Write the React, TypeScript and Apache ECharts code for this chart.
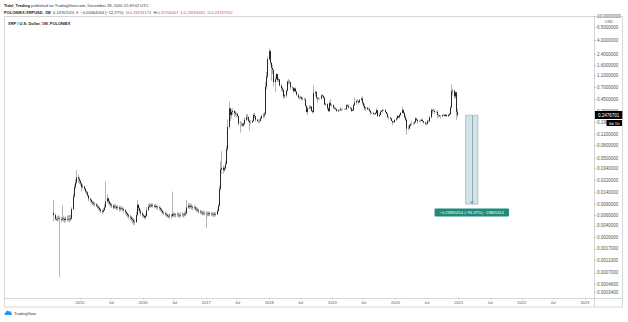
import React, { useEffect, useRef } from "react";
import * as echarts from "echarts";

// ---------- data (weekly candles, POLONIEX:XRPUSD) ----------
const firstWeekStart = "2014-08-04";
const firstOpen = 0.0065;

const close2014 = [0.006, 0.0052, 0.0051, 0.0052, 0.0053, 0.0052, 0.0051, 0.0053, 0.0052, 0.005, 0.0052, 0.0051, 0.0052, 0.0051, 0.0053, 0.0075, 0.012, 0.017, 0.02, 0.0245, 0.023, 0.0215];
const high2014 = [0.0105, 0.0064, 0.0056, 0.0058, 0.006, 0.0058, 0.0056, 0.0088, 0.0057, 0.0056, 0.0057, 0.0059, 0.006, 0.006, 0.0061, 0.008, 0.0135, 0.019, 0.023, 0.032, 0.027, 0.025];
const low2014 = [0.0048, 0.0049, 0.0048, 0.0047, 0.0049, 0.0006, 0.0046, 0.0048, 0.0047, 0.0045, 0.0046, 0.0047, 0.0047, 0.0046, 0.0048, 0.005, 0.0072, 0.0115, 0.016, 0.019, 0.02, 0.019];

const close2015 = [0.0195, 0.017, 0.0175, 0.016, 0.0145, 0.014, 0.0125, 0.011, 0.0105, 0.0098, 0.0095, 0.0092, 0.009, 0.0085, 0.0082, 0.0078, 0.0074, 0.007, 0.0068, 0.0072, 0.008, 0.01, 0.0112, 0.01, 0.0092, 0.0088, 0.0085, 0.008, 0.0083, 0.0082, 0.0078, 0.008, 0.0076, 0.0078, 0.0077, 0.0075, 0.0072, 0.0068, 0.0064, 0.006, 0.0057, 0.0055, 0.0052, 0.005, 0.0047, 0.0046, 0.006, 0.0088, 0.0078, 0.007, 0.0064, 0.006];
const high2015 = [0.0225, 0.02, 0.019, 0.018, 0.0165, 0.015, 0.0145, 0.0128, 0.0115, 0.011, 0.0103, 0.01, 0.0098, 0.0094, 0.009, 0.0086, 0.0082, 0.0078, 0.0075, 0.0078, 0.009, 0.021, 0.013, 0.0115, 0.0104, 0.0098, 0.0094, 0.009, 0.009, 0.009, 0.0086, 0.0087, 0.0084, 0.0085, 0.0083, 0.0081, 0.0079, 0.0075, 0.007, 0.0066, 0.0063, 0.006, 0.0058, 0.0056, 0.0053, 0.0051, 0.0068, 0.0105, 0.0092, 0.0082, 0.0074, 0.0068];
const low2015 = [0.018, 0.0145, 0.016, 0.015, 0.0135, 0.0128, 0.0118, 0.01, 0.0096, 0.009, 0.0087, 0.0084, 0.0083, 0.008, 0.0076, 0.0072, 0.0068, 0.0064, 0.0062, 0.0066, 0.007, 0.0078, 0.0095, 0.009, 0.0085, 0.008, 0.0078, 0.0074, 0.0076, 0.0075, 0.0072, 0.0073, 0.0068, 0.007, 0.0071, 0.0069, 0.0066, 0.0062, 0.0058, 0.0055, 0.0052, 0.005, 0.0047, 0.0044, 0.0042, 0.0041, 0.0045, 0.0058, 0.007, 0.0064, 0.0058, 0.0055];

const close2016 = [0.0058, 0.0055, 0.0058, 0.0072, 0.0082, 0.0086, 0.0084, 0.0087, 0.0085, 0.0082, 0.0084, 0.0081, 0.008, 0.0078, 0.0074, 0.007, 0.0066, 0.0064, 0.0062, 0.006, 0.0058, 0.0057, 0.0059, 0.0058, 0.0062, 0.006, 0.0061, 0.006, 0.0061, 0.006, 0.0059, 0.006, 0.0061, 0.006, 0.0062, 0.0064, 0.008, 0.0085, 0.0082, 0.0084, 0.0081, 0.0079, 0.008, 0.0076, 0.0074, 0.0072, 0.0069, 0.0067, 0.0066, 0.0064, 0.0065, 0.0064];
const high2016 = [0.0064, 0.006, 0.0063, 0.008, 0.009, 0.0095, 0.0092, 0.0094, 0.0093, 0.009, 0.0091, 0.0088, 0.0087, 0.0085, 0.0082, 0.0078, 0.0073, 0.007, 0.0068, 0.0066, 0.0064, 0.0062, 0.0064, 0.0063, 0.0144, 0.0066, 0.0066, 0.0065, 0.0067, 0.0066, 0.0065, 0.0066, 0.0067, 0.0065, 0.0068, 0.0071, 0.0105, 0.0095, 0.0092, 0.0093, 0.009, 0.0086, 0.0088, 0.0084, 0.0081, 0.0079, 0.0076, 0.0073, 0.0072, 0.007, 0.0071, 0.007];
const low2016 = [0.0054, 0.0051, 0.0052, 0.0056, 0.007, 0.0079, 0.0078, 0.008, 0.0079, 0.0077, 0.0078, 0.0075, 0.0074, 0.0072, 0.0069, 0.0065, 0.0062, 0.006, 0.0058, 0.0056, 0.0054, 0.0053, 0.0054, 0.0053, 0.0055, 0.0056, 0.0056, 0.0055, 0.0056, 0.0055, 0.0054, 0.0055, 0.0056, 0.0055, 0.0057, 0.0058, 0.0062, 0.0077, 0.0075, 0.0077, 0.0074, 0.0072, 0.0073, 0.007, 0.0068, 0.0066, 0.0063, 0.0062, 0.0061, 0.0059, 0.006, 0.0059];

const close2017 = [0.0063, 0.0062, 0.0064, 0.0062, 0.0063, 0.0062, 0.0061, 0.0063, 0.0062, 0.007, 0.0085, 0.016, 0.033, 0.035, 0.032, 0.034, 0.04, 0.07, 0.16, 0.32, 0.25, 0.28, 0.29, 0.27, 0.26, 0.26, 0.24, 0.18, 0.18, 0.18, 0.17, 0.18, 0.21, 0.23, 0.23, 0.2, 0.19, 0.19, 0.2, 0.25, 0.24, 0.21, 0.2, 0.2, 0.2, 0.22, 0.24, 0.245, 0.26, 0.72, 1.05, 2.0];
const high2017 = [0.007, 0.0068, 0.0069, 0.0068, 0.0068, 0.0067, 0.0066, 0.0068, 0.0067, 0.0076, 0.0092, 0.018, 0.045, 0.065, 0.038, 0.037, 0.045, 0.08, 0.21, 0.41, 0.33, 0.31, 0.32, 0.3, 0.29, 0.28, 0.27, 0.24, 0.2, 0.195, 0.185, 0.19, 0.23, 0.26, 0.26, 0.24, 0.21, 0.205, 0.21, 0.27, 0.27, 0.24, 0.215, 0.21, 0.215, 0.235, 0.255, 0.27, 0.28, 0.85, 1.25, 2.2];
const low2017 = [0.0037, 0.0057, 0.0058, 0.0057, 0.0058, 0.0057, 0.0056, 0.0057, 0.0057, 0.006, 0.0068, 0.0082, 0.015, 0.028, 0.028, 0.03, 0.033, 0.04, 0.065, 0.15, 0.2, 0.22, 0.25, 0.23, 0.24, 0.23, 0.23, 0.17, 0.13, 0.165, 0.16, 0.16, 0.17, 0.2, 0.21, 0.19, 0.14, 0.175, 0.185, 0.195, 0.22, 0.195, 0.19, 0.185, 0.185, 0.195, 0.215, 0.22, 0.225, 0.25, 0.65, 0.98];

const close2018 = [2.7, 1.75, 1.45, 1.35, 0.85, 0.95, 1.15, 0.92, 0.94, 0.75, 0.68, 0.64, 0.5, 0.52, 0.62, 0.87, 0.86, 0.85, 0.7, 0.69, 0.61, 0.67, 0.6, 0.53, 0.48, 0.48, 0.49, 0.46, 0.45, 0.45, 0.35, 0.28, 0.32, 0.33, 0.34, 0.29, 0.28, 0.57, 0.59, 0.48, 0.46, 0.46, 0.46, 0.52, 0.51, 0.48, 0.37, 0.38, 0.32, 0.29, 0.39, 0.36, 0.36];
const high2018 = [3.0, 2.8, 1.8, 1.6, 1.35, 1.05, 1.2, 1.15, 1.0, 0.96, 0.8, 0.72, 0.65, 0.55, 0.64, 0.9, 0.96, 0.92, 0.86, 0.74, 0.7, 0.69, 0.7, 0.61, 0.56, 0.5, 0.51, 0.49, 0.48, 0.48, 0.46, 0.36, 0.34, 0.36, 0.36, 0.35, 0.3, 0.77, 0.62, 0.6, 0.48, 0.49, 0.47, 0.54, 0.54, 0.52, 0.49, 0.39, 0.38, 0.33, 0.42, 0.45, 0.38];
const low2018 = [1.9, 1.6, 0.9, 1.15, 0.72, 0.58, 0.95, 0.85, 0.85, 0.73, 0.6, 0.58, 0.46, 0.46, 0.48, 0.6, 0.78, 0.8, 0.64, 0.64, 0.57, 0.59, 0.58, 0.51, 0.46, 0.44, 0.46, 0.43, 0.43, 0.43, 0.34, 0.27, 0.25, 0.31, 0.31, 0.28, 0.26, 0.27, 0.5, 0.45, 0.39, 0.44, 0.44, 0.45, 0.49, 0.45, 0.36, 0.35, 0.3, 0.28, 0.28, 0.35, 0.34];

const close2019 = [0.33, 0.32, 0.31, 0.29, 0.3, 0.3, 0.31, 0.31, 0.31, 0.31, 0.31, 0.36, 0.35, 0.33, 0.32, 0.29, 0.3, 0.36, 0.4, 0.42, 0.42, 0.4, 0.44, 0.46, 0.39, 0.35, 0.32, 0.33, 0.31, 0.31, 0.29, 0.27, 0.27, 0.26, 0.26, 0.27, 0.3, 0.24, 0.25, 0.28, 0.29, 0.3, 0.3, 0.28, 0.26, 0.23, 0.23, 0.22, 0.2, 0.19, 0.19, 0.21];
const high2019 = [0.37, 0.34, 0.33, 0.32, 0.31, 0.31, 0.34, 0.32, 0.32, 0.32, 0.32, 0.37, 0.38, 0.37, 0.34, 0.33, 0.31, 0.38, 0.48, 0.45, 0.45, 0.42, 0.45, 0.49, 0.5, 0.41, 0.38, 0.34, 0.33, 0.33, 0.33, 0.3, 0.28, 0.28, 0.27, 0.28, 0.32, 0.3, 0.27, 0.3, 0.3, 0.31, 0.31, 0.31, 0.28, 0.27, 0.24, 0.23, 0.22, 0.2, 0.2, 0.21];
const low2019 = [0.31, 0.31, 0.3, 0.28, 0.28, 0.29, 0.29, 0.29, 0.3, 0.3, 0.3, 0.3, 0.34, 0.32, 0.31, 0.28, 0.29, 0.29, 0.35, 0.37, 0.4, 0.37, 0.4, 0.43, 0.37, 0.34, 0.3, 0.29, 0.3, 0.3, 0.28, 0.25, 0.26, 0.25, 0.25, 0.25, 0.26, 0.23, 0.23, 0.25, 0.28, 0.27, 0.29, 0.27, 0.26, 0.22, 0.21, 0.21, 0.2, 0.17, 0.185, 0.19];

const close2020 = [0.22, 0.24, 0.23, 0.25, 0.27, 0.3, 0.27, 0.23, 0.21, 0.15, 0.15, 0.17, 0.18, 0.18, 0.18, 0.19, 0.22, 0.21, 0.2, 0.2, 0.2, 0.21, 0.2, 0.19, 0.18, 0.18, 0.2, 0.2, 0.23, 0.3, 0.29, 0.29, 0.28, 0.28, 0.25, 0.25, 0.24, 0.24, 0.25, 0.25, 0.24, 0.25, 0.24, 0.25, 0.26, 0.33, 0.6, 0.62, 0.5, 0.58, 0.28231574, 0.2476701];
const high2020 = [0.23, 0.25, 0.24, 0.26, 0.28, 0.34, 0.31, 0.28, 0.25, 0.22, 0.17, 0.18, 0.18, 0.2, 0.19, 0.2, 0.23, 0.22, 0.21, 0.21, 0.21, 0.22, 0.21, 0.2, 0.19, 0.19, 0.21, 0.21, 0.24, 0.32, 0.31, 0.32, 0.31, 0.29, 0.3, 0.26, 0.25, 0.25, 0.25, 0.26, 0.26, 0.26, 0.26, 0.26, 0.27, 0.35, 0.78, 0.66, 0.63, 0.6, 0.59, 0.31704407];
const low2020 = [0.2, 0.21, 0.22, 0.22, 0.24, 0.27, 0.26, 0.22, 0.2, 0.12, 0.14, 0.15, 0.16, 0.17, 0.17, 0.18, 0.19, 0.2, 0.18, 0.19, 0.19, 0.2, 0.19, 0.18, 0.17, 0.17, 0.175, 0.19, 0.19, 0.22, 0.26, 0.28, 0.26, 0.27, 0.22, 0.23, 0.23, 0.22, 0.23, 0.24, 0.24, 0.24, 0.23, 0.23, 0.24, 0.25, 0.33, 0.52, 0.46, 0.46, 0.21, 0.23594461];

// axis ticks
const priceTicks = [10, 6.5, 4, 2.4, 1.6, 1.1, 0.7, 0.45, 0.29, 0.19, 0.12, 0.08, 0.05, 0.034, 0.022, 0.014, 0.009, 0.006, 0.004, 0.0026, 0.0017, 0.0011, 0.0007, 0.00046, 0.00034];
const timeTickDates = ["2015-01-01", "2015-07-01", "2016-01-01", "2016-07-01", "2017-01-01", "2017-07-01", "2018-01-01", "2018-07-01", "2019-01-01", "2019-07-01", "2020-01-01", "2020-07-01", "2021-01-01", "2021-07-01", "2022-01-01", "2022-07-01", "2023-01-01"];
const axisStart = "2013-10-24";
const axisEnd = "2023-02-23";
const priceMin = 0.0002735;
const priceMax = 10;

// price-range (measure) annotation
const measureFrom = "2021-02-10";
const measureTo = "2021-04-22";
const measureMid = "2021-03-18";
const measureTop = 0.2476701;
const measureBottom = 0.00905;
const measureText = "\u22120.23865314 (\u221296.37%) \u221223865314";

const FONT = "'Liberation Sans', Arial, sans-serif";

const toUTC = (s: string) => {
  const [y, m, d] = s.split("-").map(Number);
  return Date.UTC(y, m - 1, d);
};

export default function App() {
  const ref = useRef<HTMLDivElement>(null);

  useEffect(() => {
    if (!ref.current) return;
    const chart = echarts.init(ref.current, undefined, { renderer: "svg" });

    echarts.graphic.registerShape(
      "tvlogo",
      echarts.graphic.extendPath(
        "M3 10 C0 10 0 6 3 6 C3 2 8 1 9 4 C10 3 13 3 13 6 C15 6 15 10 13 10 Z",
        {}
      )
    );

    const closes = [...close2014, ...close2015, ...close2016, ...close2017, ...close2018, ...close2019, ...close2020];
    const highs = [...high2014, ...high2015, ...high2016, ...high2017, ...high2018, ...high2019, ...high2020];
    const lows = [...low2014, ...low2015, ...low2016, ...low2017, ...low2018, ...low2019, ...low2020];
    const WEEK = 7 * 24 * 3600 * 1000;
    const t0 = toUTC(firstWeekStart);
    const opens = closes.map((c, i) => (i === 0 ? firstOpen : closes[i - 1]));
    const times = closes.map((_, i) => t0 + i * WEEK);

    const wickData = closes.map((c, i) => [times[i], opens[i], c, lows[i], highs[i]]);
    const bodyData = closes.map((c, i) => [times[i], opens[i], c, Math.min(opens[i], c), Math.max(opens[i], c)]);

    const timeTicks = timeTickDates.map(toUTC);
    const lastClose = closes[closes.length - 1];

    const option: any = {
      animation: false,
      backgroundColor: "#ffffff",
      textStyle: { fontFamily: FONT },
      grid: { left: 5, right: 34, top: 16, bottom: 24 },
      xAxis: {
        type: "value",
        min: toUTC(axisStart),
        max: toUTC(axisEnd),
        axisLine: { show: false },
        axisTick: { show: true, length: 1.5, customValues: timeTicks, lineStyle: { color: "#a0a0a0", width: 0.6 } },
        axisLabel: {
          customValues: timeTicks,
          fontSize: 4,
          color: "#555",
          margin: 2.5,
          fontFamily: FONT,
          formatter: (v: number) => {
            const d = new Date(v);
            return d.getUTCMonth() === 0 ? String(d.getUTCFullYear()) : "Jul";
          },
        },
        splitLine: { show: false },
      },
      yAxis: {
        type: "log",
        logBase: 10,
        position: "right",
        min: priceMin,
        max: priceMax,
        axisLine: { show: false },
        axisTick: { show: true, length: 2, customValues: priceTicks, lineStyle: { color: "#a0a0a0", width: 0.6 } },
        axisLabel: {
          customValues: priceTicks,
          fontSize: 4.5,
          color: "#555",
          margin: 3,
          fontFamily: FONT,
          formatter: (v: number) => Number(v).toFixed(7),
        },
        splitLine: { show: false },
      },
      series: [
        {
          type: "candlestick",
          name: "wicks",
          data: wickData,
          barWidth: 1.3,
          silent: true,
          itemStyle: { color: "#a2a2a2", color0: "#a2a2a2", borderColor: "#a2a2a2", borderColor0: "#a2a2a2", borderWidth: 0.8 },
        },
        {
          type: "candlestick",
          name: "XRPUSD",
          data: bodyData,
          barWidth: 1.3,
          silent: true,
          itemStyle: { color: "#ffffff", color0: "#161616", borderColor: "#161616", borderColor0: "#161616", borderWidth: 0.9 },
          markArea: {
            silent: true,
            itemStyle: { color: "rgba(150,188,196,0.42)", borderColor: "#86aab1", borderWidth: 0.6 },
            label: {
              show: true,
              position: "bottom",
              distance: 4,
              formatter: measureText,
              color: "#ffffff",
              backgroundColor: "#1f8a79",
              fontSize: 4,
              fontFamily: FONT,
              padding: [2, 5],
              borderRadius: 1,
            },
            data: [[{ coord: [toUTC(measureFrom), measureTop] }, { coord: [toUTC(measureTo), measureBottom] }]],
          },
          markLine: {
            silent: true,
            symbol: ["none", "arrow"],
            symbolSize: 3,
            data: [
              {
                yAxis: lastClose,
                symbol: "none",
                lineStyle: { color: "rgba(0,0,0,0)", width: 0 },
                label: {
                  show: true,
                  position: "end",
                  distance: 1,
                  formatter: () => lastClose.toFixed(7),
                  color: "#ffffff",
                  backgroundColor: "#000000",
                  fontSize: 4.5,
                  fontFamily: FONT,
                  padding: [1.5, 3],
                },
              },
              [
                { coord: [toUTC(measureMid), measureTop], lineStyle: { color: "#6e979e", width: 0.7, type: "solid" }, label: { show: false } },
                { coord: [toUTC(measureMid), measureBottom] },
              ],
            ],
          },
        },
      ],
      graphic: [
        { type: "rect", shape: { x: 4.5, y: 16.5, width: 618, height: 290.5 }, style: { fill: "none", stroke: "#c4c4c4", lineWidth: 0.7 }, silent: true, z: 5 },
        { type: "line", shape: { x1: 4.5, y1: 298.5, x2: 622.5, y2: 298.5 }, style: { stroke: "#c4c4c4", lineWidth: 0.7 }, silent: true, z: 5 },
        { type: "line", shape: { x1: 594.5, y1: 16.5, x2: 594.5, y2: 307 }, style: { stroke: "#c4c4c4", lineWidth: 0.7 }, silent: true, z: 5 },
        {
          type: "text",
          x: 4,
          y: 3,
          silent: true,
          z: 10,
          style: {
            text: "{b|Tidal_Trading} published on TradingView.com, December 28, 2020 22:49:02 UTC",
            fontSize: 4,
            fontFamily: FONT,
            fill: "#333",
            rich: { b: { fontWeight: "bold", fontSize: 4, fontFamily: FONT, fill: "#222" } },
          },
        },
        {
          type: "text",
          x: 4,
          y: 10,
          silent: true,
          z: 10,
          style: {
            text: "{b|POLONIEX:XRPUSD, 1W}  0.24767010 {r|\u25BC} \u22120.03464564 (\u221212.27%)  O:{r|0.28231574}  H:{r|0.31704407}  L:{r|0.23594461}  C:{r|0.24767010}",
            fontSize: 4,
            fontFamily: FONT,
            fill: "#333",
            rich: {
              b: { fontWeight: "bold", fontSize: 4, fontFamily: FONT, fill: "#222" },
              r: { fontSize: 4, fontFamily: FONT, fill: "#e0474c" },
            },
          },
        },
        {
          type: "text",
          x: 8,
          y: 21,
          silent: true,
          z: 10,
          style: { text: "XRP / U.S. Dollar, 1W, POLONIEX", fontSize: 4, fontWeight: "bold", fontFamily: FONT, fill: "#222" },
        },
        {
          type: "text",
          x: 609,
          y: 19.5,
          silent: true,
          z: 10,
          style: { text: "USD", fontSize: 4, fontFamily: FONT, fill: "#555", align: "center" },
        },
        {
          type: "text",
          x: 622,
          y: 120,
          silent: true,
          z: 20,
          style: {
            text: "6d 1h",
            fontSize: 4.2,
            fontFamily: FONT,
            fill: "#ffffff",
            align: "right",
            backgroundColor: "#000000",
            padding: [1, 2.5],
          },
        },
        { type: "tvlogo", x: 4, y: 309.5, scaleX: 0.55, scaleY: 0.55, silent: true, z: 10, style: { fill: "#2196f3" } },
        {
          type: "text",
          x: 14,
          y: 311.5,
          silent: true,
          z: 10,
          style: { text: "TradingView", fontSize: 4, fontFamily: FONT, fill: "#333" },
        },
      ],
    };

    chart.setOption(option);
    return () => chart.dispose();
  }, []);

  return <div ref={ref} style={{ position: "fixed", left: 0, top: 0, width: 628, height: 322 }} />;
}
